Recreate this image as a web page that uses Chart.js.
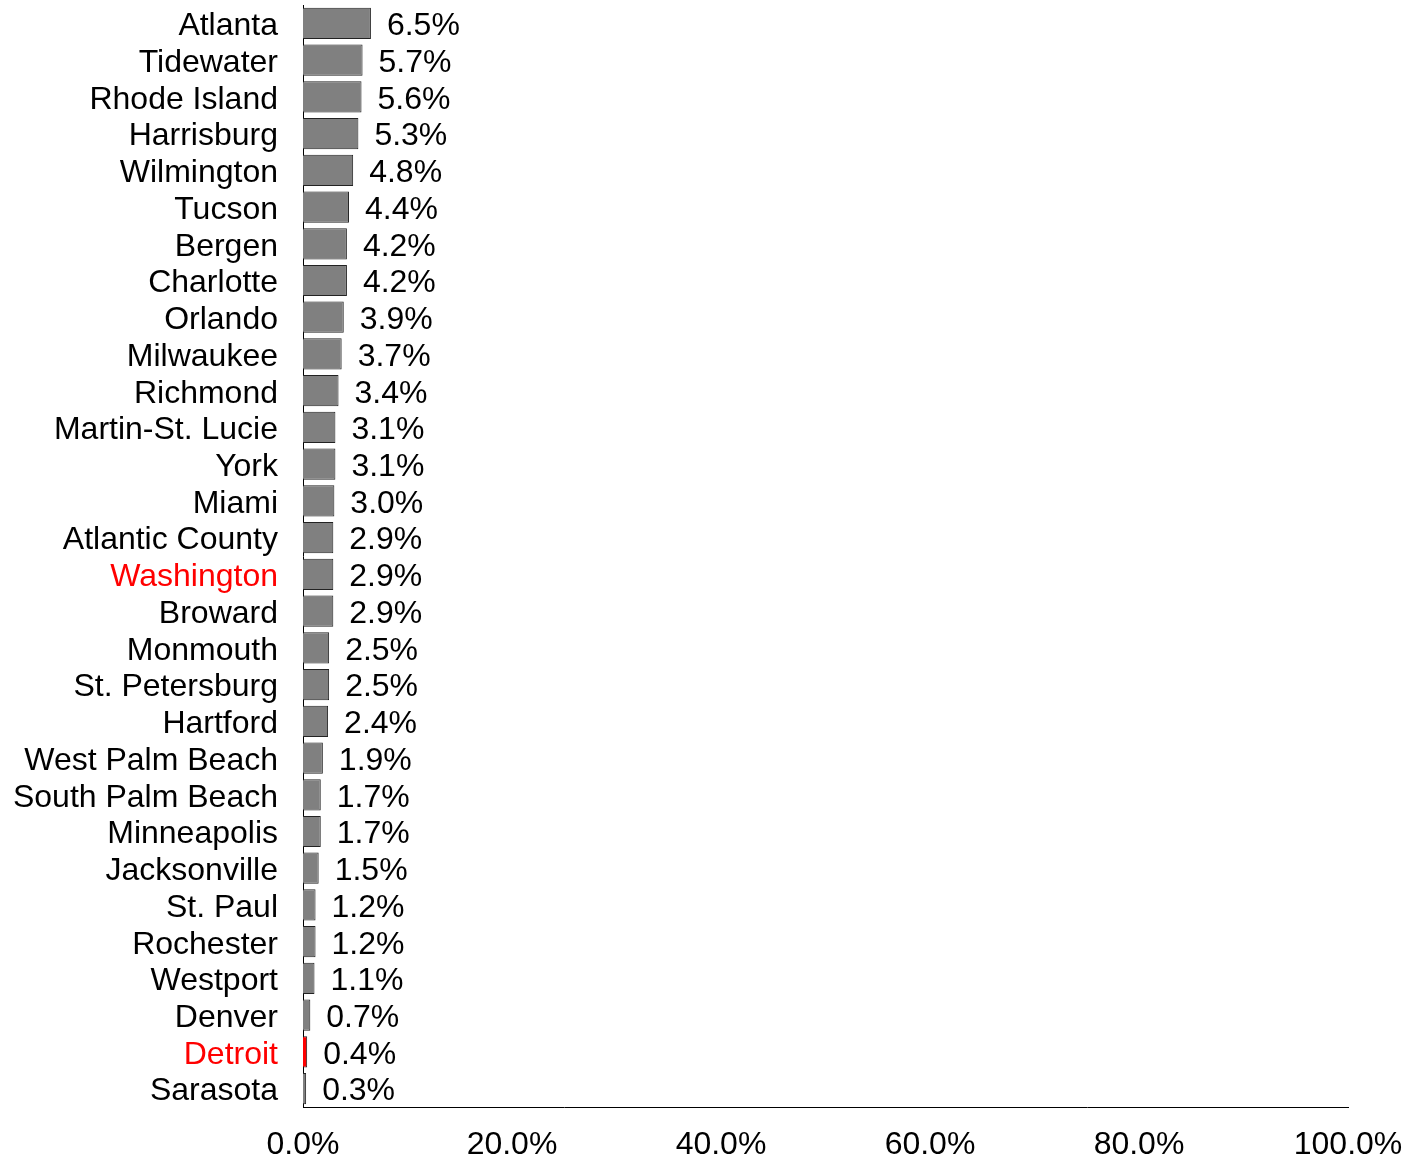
<!DOCTYPE html>
<html>
<head>
<meta charset="utf-8">
<script src="https://cdn.jsdelivr.net/npm/chart.js@4/dist/chart.umd.min.js"></script>
<style>
  html, body { margin: 0; padding: 0; background: #fff; }
  #wrap { width: 1412px; height: 1158px; }
</style>
</head>
<body>
<div id="wrap"><canvas id="chart"></canvas></div>
<script>
const cities = [
    'Atlanta', 'Tidewater', 'Rhode Island', 'Harrisburg', 'Wilmington', 'Tucson',
    'Bergen', 'Charlotte', 'Orlando', 'Milwaukee', 'Richmond', 'Martin-St. Lucie',
    'York', 'Miami', 'Atlantic County', 'Washington', 'Broward', 'Monmouth',
    'St. Petersburg', 'Hartford', 'West Palm Beach', 'South Palm Beach', 'Minneapolis',
    'Jacksonville', 'St. Paul', 'Rochester', 'Westport', 'Denver', 'Detroit', 'Sarasota'
];
const shares = [
    6.5, 5.7, 5.6, 5.3, 4.8, 4.4,
    4.2, 4.2, 3.9, 3.7, 3.4, 3.1,
    3.1, 3.0, 2.9, 2.9, 2.9, 2.5,
    2.5, 2.4, 1.9, 1.7, 1.7,
    1.5, 1.2, 1.2, 1.1, 0.7, 0.4, 0.3
];
const redLabels = ['Washington', 'Detroit'];
const redBars = ['Detroit'];
const xTicks = [0, 20, 40, 60, 80, 100];

const FONT = 'Liberation Sans, Arial, sans-serif';

// city names on the left and percentage text to the right of each bar
const barText = {
    id: 'barText',
    afterDatasetsDraw(chart) {
        const ctx = chart.ctx;
        const yScale = chart.scales.y;
        const meta = chart.getDatasetMeta(0);
        ctx.save();
        ctx.font = `32px ${FONT}`;
        ctx.textBaseline = 'middle';
        cities.forEach((name, i) => {
            const y = yScale.getPixelForTick(i) + 3;
            ctx.textAlign = 'right';
            ctx.fillStyle = redLabels.includes(name) ? '#ff0000' : '#000';
            ctx.fillText(name, yScale.right - 25, y);
        });
        ctx.textAlign = 'left';
        ctx.fillStyle = '#000';
        meta.data.forEach((bar, i) => {
            ctx.fillText(shares[i].toFixed(1) + '%', bar.x + 16, bar.y + 3);
        });
        ctx.restore();
    }
};

// fixed axis boxes, no extra room for overhanging tick labels
function fixBox(size, key) {
    return axis => {
        axis[key] = size;
        axis.paddingTop = 0;
        axis.paddingBottom = 0;
        axis.paddingLeft = 0;
        axis.paddingRight = 0;
    };
}

new Chart(document.getElementById('chart'), {
    type: 'bar',
    data: {
        labels: cities,
        datasets: [{
            data: shares,
            backgroundColor: cities.map(c => redBars.includes(c) ? '#ff0000' : '#808080'),
            borderColor: '#222',
            borderWidth: 1,
            barPercentage: 0.85,
            categoryPercentage: 1
        }]
    },
    options: {
        indexAxis: 'y',
        responsive: true,
        maintainAspectRatio: false,
        animation: false,
        layout: { padding: { top: 5, right: 64, left: 0, bottom: 0 } },
        plugins: {
            legend: { display: false },
            tooltip: { enabled: false }
        },
        scales: {
            x: {
                min: 0,
                max: 100,
                afterBuildTicks: axis => { axis.ticks = xTicks.map(v => ({ value: v })); },
                afterFit: fixBox(51, 'height'),
                grid: { display: false, drawTicks: false },
                border: { display: true, color: '#000', width: 1 },
                ticks: {
                    padding: 19,
                    color: '#000',
                    font: { family: FONT, size: 32 },
                    maxRotation: 0,
                    callback: v => v.toFixed(1) + '%'
                }
            },
            y: {
                afterFit: fixBox(303, 'width'),
                grid: { display: false, drawTicks: false },
                border: { display: true, color: '#000', width: 1 },
                ticks: { display: false, autoSkip: false }
            }
        }
    },
    plugins: [barText]
});
</script>
</body>
</html>
